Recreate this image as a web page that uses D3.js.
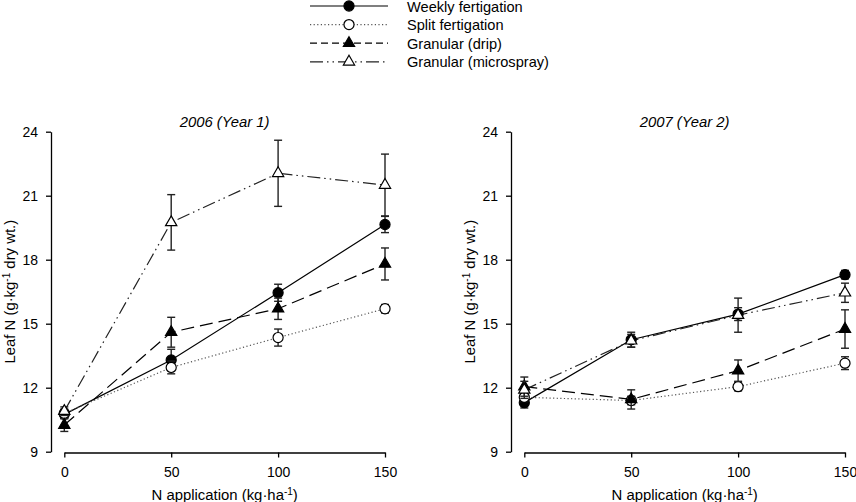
<!DOCTYPE html>
<html>
<head>
<meta charset="utf-8">
<script src="https://cdn.jsdelivr.net/npm/d3@7"></script>
<style>
  body { margin: 0; background: #fff; }
  svg { display: block; font-family: "Liberation Sans", Arial, sans-serif; }
  .axis path, .axis line { stroke: #000; stroke-width: 1.3px; }
  .axis text { font-size: 14px; fill: #000; }
</style>
</head>
<body>
<div id="chart"></div>
<script>
const rates = [0, 50, 100, 150]
const yTicks = [9, 12, 15, 18, 21, 24]
const treatments = ['Weekly fertigation', 'Split fertigation', 'Granular (drip)', 'Granular (microspray)']
const years = ['2006 (Year 1)', '2007 (Year 2)']

// means, one array per treatment and year
const weekly2006 = [10.75, 13.3, 16.45, 19.65]
const split2006 = [10.8, 12.95, 14.35, 15.7]
const drip2006 = [10.25, 14.6, 15.7, 17.8]
const micro2006 = [10.9, 19.75, 22.05, 21.5]

const weekly2007 = [11.3, 14.25, 15.45, 17.3]
const split2007 = [11.55, 11.4, 12.05, 13.15]
const drip2007 = [12.05, 11.45, 12.8, 14.75]
const micro2007 = [11.9, 14.2, 15.4, 16.45]

// standard errors
const weeklyErr2006 = [0.2, 0.5, 0.4, 0.38]
const splitErr2006 = [0.2, 0.3, 0.4, 0.2]
const dripErr2006 = [0.3, 0.7, 0.5, 0.75]
const microErr2006 = [0.2, 1.3, 1.55, 1.45]

const weeklyErr2007 = [0.25, 0.35, 0.3, 0.2]
const splitErr2007 = [0.2, 0.2, 0.2, 0.3]
const dripErr2007 = [0.45, 0.45, 0.5, 0.9]
const microErr2007 = [0.4, 0.3, 0.8, 0.45]

const panels = [
  { title: years[0], means: [weekly2006, split2006, drip2006, micro2006], errs: [weeklyErr2006, splitErr2006, dripErr2006, microErr2006] },
  { title: years[1], means: [weekly2007, split2007, drip2007, micro2007], errs: [weeklyErr2007, splitErr2007, dripErr2007, microErr2007] }
]

// drawing style per treatment
const styles = [
  { dash: null, color: '#000', symbol: d3.symbolCircle, size: 80, fill: '#000' },
  { dash: '1.2,2.4', color: '#555', symbol: d3.symbolCircle, size: 80, fill: '#fff' },
  { dash: '13,6', color: '#000', symbol: d3.symbolTriangle, size: 55, fill: '#000' },
  { dash: '13,4,1.5,4,1.5,4', color: '#222', symbol: d3.symbolTriangle, size: 55, fill: '#fff' }
]

const width = 856
const height = 502

const svg = d3.select('#chart').append('svg')
  .attr('width', width)
  .attr('height', height)

// legend
const legend = svg.append('g').attr('transform', 'translate(310,6)')
treatments.forEach((name, i) => {
  const s = styles[i]
  const row = legend.append('g').attr('transform', `translate(0,${i * 18.6})`)
  row.append('line')
    .attr('x1', 0).attr('x2', 78)
    .attr('stroke', s.color)
    .attr('stroke-width', 1.2)
    .attr('stroke-dasharray', i === 2 ? '7,4' : s.dash)
  row.append('path')
    .attr('d', d3.symbol(s.symbol, s.size)())
    .attr('transform', 'translate(39,0)')
    .attr('fill', s.fill)
    .attr('stroke', '#000')
    .attr('stroke-width', 1.2)
  row.append('text')
    .attr('x', 97).attr('y', 5.5)
    .attr('font-size', 14.6)
    .text(name)
})

function drawPanel (panel, offset) {
  const g = svg.append('g').attr('transform', `translate(${offset},0)`)

  const x = d3.scaleLinear().domain([0, 150]).range([64.3, 385])
  const y = d3.scaleLinear().domain([9, 24]).range([451.7, 131.7])
  const yAxisX = 51

  g.append('g')
    .attr('class', 'axis')
    .attr('transform', `translate(${yAxisX},0)`)
    .call(d3.axisLeft(y).tickValues(yTicks).tickSize(5).tickSizeOuter(0).tickPadding(8))

  g.append('g')
    .attr('class', 'axis')
    .attr('transform', 'translate(0,452.5)')
    .call(d3.axisBottom(x).tickValues(rates).tickSize(5).tickSizeOuter(0).tickPadding(10))

  g.append('text')
    .attr('x', (x(0) + x(150)) / 2)
    .attr('y', 127)
    .attr('text-anchor', 'middle')
    .attr('font-size', 14.8)
    .attr('font-style', 'italic')
    .text(panel.title)

  const xl = g.append('text')
    .attr('x', (x(0) + x(150)) / 2)
    .attr('y', 500)
    .attr('text-anchor', 'middle')
    .attr('font-size', 14.9)
  xl.append('tspan').text('N application (kg·ha')
  xl.append('tspan').attr('dy', -5).attr('font-size', 10).text('-1')
  xl.append('tspan').attr('dy', 5).text(')')

  const yl = g.append('text')
    .attr('transform', `translate(15,${(y(9) + y(24)) / 2}) rotate(-90)`)
    .attr('text-anchor', 'middle')
    .attr('font-size', 14.9)
  yl.append('tspan').text('Leaf N (g·kg')
  yl.append('tspan').attr('dy', -5).attr('font-size', 10).text('-1')
  yl.append('tspan').attr('dy', 5).text(' dry wt.)')

  const line = d3.line().x((d, i) => x(rates[i])).y(d => y(d))

  panel.means.forEach((vals, k) => {
    const s = styles[k]
    g.append('path')
      .datum(vals)
      .attr('d', line)
      .attr('fill', 'none')
      .attr('stroke', s.color)
      .attr('stroke-width', 1.2)
      .attr('stroke-dasharray', s.dash)
  })

  panel.means.forEach((vals, k) => {
    const s = styles[k]
    const errs = panel.errs[k]
    const bars = g.append('g')
      .selectAll('g')
      .data(vals)
      .enter()
      .append('g')
      .attr('stroke', '#222')
      .attr('stroke-width', 1.4)

    bars.append('line')
      .attr('x1', (d, i) => x(rates[i])).attr('x2', (d, i) => x(rates[i]))
      .attr('y1', (d, i) => y(d - errs[i])).attr('y2', (d, i) => y(d + errs[i]))
    bars.append('line')
      .attr('x1', (d, i) => x(rates[i]) - 4).attr('x2', (d, i) => x(rates[i]) + 4)
      .attr('y1', (d, i) => y(d + errs[i])).attr('y2', (d, i) => y(d + errs[i]))
    bars.append('line')
      .attr('x1', (d, i) => x(rates[i]) - 4).attr('x2', (d, i) => x(rates[i]) + 4)
      .attr('y1', (d, i) => y(d - errs[i])).attr('y2', (d, i) => y(d - errs[i]))

    g.append('g')
      .selectAll('path')
      .data(vals)
      .enter()
      .append('path')
      .attr('d', d3.symbol(s.symbol, s.size))
      .attr('transform', (d, i) => `translate(${x(rates[i])},${y(d)})`)
      .attr('fill', s.fill)
      .attr('stroke', '#000')
      .attr('stroke-width', 1.2)
  })
}

drawPanel(panels[0], 0)
drawPanel(panels[1], 460)
</script>
</body>
</html>
